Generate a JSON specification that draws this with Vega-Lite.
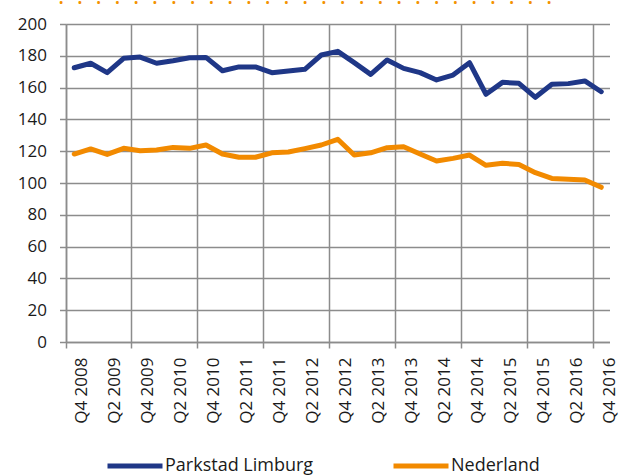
{
  "$schema": "https://vega.github.io/schema/vega-lite/v6.json",
  "autosize": "none",
  "width": 543.5,
  "height": 318,
  "padding": {"left": 66, "top": 24, "right": 11.5, "bottom": 133},
  "background": "white",
  "title": {
    "text": ".\u00a0\u00a0.\u00a0\u00a0.\u00a0\u00a0.\u00a0\u00a0.\u00a0\u00a0.\u00a0\u00a0.\u00a0\u00a0.\u00a0\u00a0.\u00a0\u00a0.\u00a0\u00a0.\u00a0\u00a0.\u00a0\u00a0.\u00a0\u00a0.\u00a0\u00a0.\u00a0\u00a0.\u00a0\u00a0.\u00a0\u00a0.\u00a0\u00a0.\u00a0\u00a0.\u00a0\u00a0.\u00a0\u00a0.\u00a0\u00a0.\u00a0\u00a0.\u00a0\u00a0.\u00a0\u00a0.\u00a0\u00a0.",
    "font": "Open Sans",
    "fontSize": 24,
    "fontWeight": "normal",
    "color": "#F39200",
    "anchor": "start",
    "frame": "group",
    "orient": "top",
    "baseline": "alphabetic",
    "offset": 0,
    "dx": -8,
    "dy": 13
  },
  "data": {
    "values": [
      {"q": "Q4 2008", "s": "Parkstad Limburg", "v": 172.5},
      {"q": "Q1 2009", "s": "Parkstad Limburg", "v": 175.3},
      {"q": "Q2 2009", "s": "Parkstad Limburg", "v": 169.4},
      {"q": "Q3 2009", "s": "Parkstad Limburg", "v": 178.4},
      {"q": "Q4 2009", "s": "Parkstad Limburg", "v": 179.2},
      {"q": "Q1 2010", "s": "Parkstad Limburg", "v": 175.3},
      {"q": "Q2 2010", "s": "Parkstad Limburg", "v": 176.9},
      {"q": "Q3 2010", "s": "Parkstad Limburg", "v": 178.8},
      {"q": "Q4 2010", "s": "Parkstad Limburg", "v": 179.0},
      {"q": "Q1 2011", "s": "Parkstad Limburg", "v": 170.6},
      {"q": "Q2 2011", "s": "Parkstad Limburg", "v": 173.0},
      {"q": "Q3 2011", "s": "Parkstad Limburg", "v": 173.0},
      {"q": "Q4 2011", "s": "Parkstad Limburg", "v": 169.4},
      {"q": "Q1 2012", "s": "Parkstad Limburg", "v": 170.4},
      {"q": "Q2 2012", "s": "Parkstad Limburg", "v": 171.5},
      {"q": "Q3 2012", "s": "Parkstad Limburg", "v": 180.5},
      {"q": "Q4 2012", "s": "Parkstad Limburg", "v": 182.8},
      {"q": "Q1 2013", "s": "Parkstad Limburg", "v": 175.7},
      {"q": "Q2 2013", "s": "Parkstad Limburg", "v": 168.3},
      {"q": "Q3 2013", "s": "Parkstad Limburg", "v": 177.4},
      {"q": "Q4 2013", "s": "Parkstad Limburg", "v": 172.1},
      {"q": "Q1 2014", "s": "Parkstad Limburg", "v": 169.4},
      {"q": "Q2 2014", "s": "Parkstad Limburg", "v": 164.8},
      {"q": "Q3 2014", "s": "Parkstad Limburg", "v": 167.9},
      {"q": "Q4 2014", "s": "Parkstad Limburg", "v": 175.7},
      {"q": "Q1 2015", "s": "Parkstad Limburg", "v": 155.8},
      {"q": "Q2 2015", "s": "Parkstad Limburg", "v": 163.3},
      {"q": "Q3 2015", "s": "Parkstad Limburg", "v": 162.7},
      {"q": "Q4 2015", "s": "Parkstad Limburg", "v": 153.9},
      {"q": "Q1 2016", "s": "Parkstad Limburg", "v": 162.1},
      {"q": "Q2 2016", "s": "Parkstad Limburg", "v": 162.5},
      {"q": "Q3 2016", "s": "Parkstad Limburg", "v": 164.2},
      {"q": "Q4 2016", "s": "Parkstad Limburg", "v": 157.4},
      {"q": "Q4 2008", "s": "Nederland", "v": 118.2},
      {"q": "Q1 2009", "s": "Nederland", "v": 121.4},
      {"q": "Q2 2009", "s": "Nederland", "v": 118.0},
      {"q": "Q3 2009", "s": "Nederland", "v": 121.8},
      {"q": "Q4 2009", "s": "Nederland", "v": 120.3},
      {"q": "Q1 2010", "s": "Nederland", "v": 120.8},
      {"q": "Q2 2010", "s": "Nederland", "v": 122.4},
      {"q": "Q3 2010", "s": "Nederland", "v": 121.8},
      {"q": "Q4 2010", "s": "Nederland", "v": 123.9},
      {"q": "Q1 2011", "s": "Nederland", "v": 118.2},
      {"q": "Q2 2011", "s": "Nederland", "v": 116.2},
      {"q": "Q3 2011", "s": "Nederland", "v": 116.2},
      {"q": "Q4 2011", "s": "Nederland", "v": 119.0},
      {"q": "Q1 2012", "s": "Nederland", "v": 119.5},
      {"q": "Q2 2012", "s": "Nederland", "v": 121.6},
      {"q": "Q3 2012", "s": "Nederland", "v": 123.9},
      {"q": "Q4 2012", "s": "Nederland", "v": 127.5},
      {"q": "Q1 2013", "s": "Nederland", "v": 117.6},
      {"q": "Q2 2013", "s": "Nederland", "v": 119.0},
      {"q": "Q3 2013", "s": "Nederland", "v": 122.2},
      {"q": "Q4 2013", "s": "Nederland", "v": 122.8},
      {"q": "Q1 2014", "s": "Nederland", "v": 118.2},
      {"q": "Q2 2014", "s": "Nederland", "v": 113.8},
      {"q": "Q3 2014", "s": "Nederland", "v": 115.5},
      {"q": "Q4 2014", "s": "Nederland", "v": 117.6},
      {"q": "Q1 2015", "s": "Nederland", "v": 111.1},
      {"q": "Q2 2015", "s": "Nederland", "v": 112.4},
      {"q": "Q3 2015", "s": "Nederland", "v": 111.7},
      {"q": "Q4 2015", "s": "Nederland", "v": 106.5},
      {"q": "Q1 2016", "s": "Nederland", "v": 102.9},
      {"q": "Q2 2016", "s": "Nederland", "v": 102.3},
      {"q": "Q3 2016", "s": "Nederland", "v": 101.9},
      {"q": "Q4 2016", "s": "Nederland", "v": 97.3}
    ]
  },
  "mark": {"type": "line", "strokeWidth": 5, "strokeJoin": "round", "strokeCap": "round"},
  "encoding": {
    "x": {
      "field": "q",
      "type": "ordinal",
      "sort": null,
      "bandPosition": 0.5,
      "scale": {"type": "band", "paddingInner": 0, "paddingOuter": 0},
      "axis": {
        "title": null,
        "bandPosition": 0,
        "values": ["Q4 2008", "Q2 2009", "Q4 2009", "Q2 2010", "Q4 2010", "Q2 2011", "Q4 2011", "Q2 2012", "Q4 2012", "Q2 2013", "Q4 2013", "Q2 2014", "Q4 2014", "Q2 2015", "Q4 2015", "Q2 2016", "Q4 2016"],
        "labelAngle": -90,
        "labelOffset": 8.24,
        "labelPadding": 9,
        "labelFont": "Open Sans",
        "labelFontSize": 17,
        "labelColor": "#1a1a1a",
        "grid": true,
        "gridColor": "#8c8c8c",
        "gridWidth": 1.5,
        "gridOpacity": {"condition": {"test": "indexof(datum.value, 'Q4') === 0", "value": 1}, "value": 0},
        "tickOpacity": {"condition": {"test": "indexof(datum.value, 'Q4') === 0", "value": 1}, "value": 0},
        "tickColor": "#8c8c8c",
        "tickWidth": 1.5,
        "tickSize": 6,
        "domainColor": "#8c8c8c",
        "domainWidth": 1.5
      }
    },
    "y": {
      "field": "v",
      "type": "quantitative",
      "scale": {"domain": [0, 200], "nice": false},
      "axis": {
        "title": null,
        "values": [0, 20, 40, 60, 80, 100, 120, 140, 160, 180, 200],
        "labelFont": "Open Sans",
        "labelFontSize": 17,
        "labelColor": "#1a1a1a",
        "labelPadding": 13,
        "grid": true,
        "gridColor": "#8c8c8c",
        "gridWidth": 1.5,
        "tickColor": "#8c8c8c",
        "tickWidth": 1.5,
        "tickSize": 6.5,
        "domainColor": "#8c8c8c",
        "domainWidth": 1.5
      }
    },
    "color": {
      "field": "s",
      "type": "nominal",
      "scale": {"domain": ["Parkstad Limburg", "Nederland"], "range": ["#1f3787", "#f28a00"]},
      "legend": {
        "title": null,
        "orient": "none",
        "direction": "horizontal",
        "legendX": 39,
        "legendY": 412,
        "symbolType": "stroke",
        "symbolSize": 3025,
        "symbolStrokeWidth": 5,
        "labelFont": "Open Sans",
        "labelFontSize": 18,
        "labelColor": "#1a1a1a",
        "labelOffset": 0,
        "columnPadding": 69
      }
    }
  },
  "config": {"view": {"stroke": null}}
}
